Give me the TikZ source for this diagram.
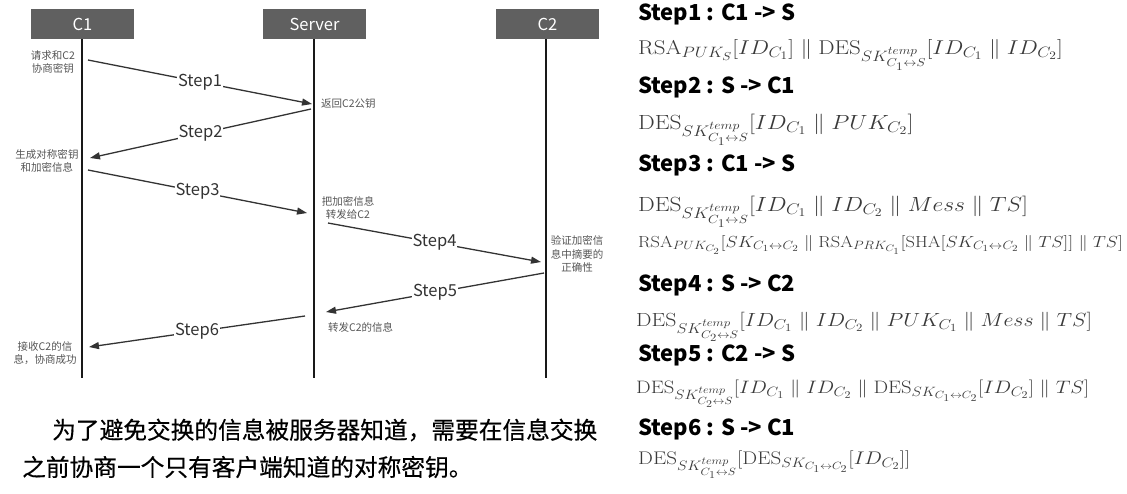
\documentclass[tikz,border=0pt]{standalone}
\usepackage{fix-cm}
\usepackage{amsmath}
\usepackage{fontspec}
\newfontfamily\yahei{Noto Sans CJK SC}
\newfontfamily\yaheilead[FakeBold=0.4]{Noto Sans CJK SC}
\usetikzlibrary{arrows.meta}
\DeclareMathSizes{20.5}{20.5}{15.4}{11.8}
\DeclareMathSizes{20}{20}{15}{11.5}
\DeclareMathSizes{19}{19}{14.3}{11}
\DeclareMathSizes{18.3}{18.3}{13.7}{10.5}
\DeclareMathSizes{18}{18}{13.5}{10.4}
\DeclareMathSizes{16}{16}{12}{9.3}
\definecolor{head}{HTML}{606060}
\definecolor{wire}{HTML}{333333}
\definecolor{note}{HTML}{555555}
\definecolor{formula}{HTML}{3A3A3A}
\tikzset{
  party/.style={fill=head, text=white, minimum width=103pt, minimum height=30pt,
    inner sep=0pt, font=\yahei\fontsize{16.5}{16.5}\selectfont},
  life/.style={draw=black!90, line width=1.6pt},
  msg/.style={draw=wire, line width=1.3pt, -{Triangle[length=10pt,width=7pt]}},
  steplab/.style={fill=white, text=wire, inner sep=1pt, font=\yahei\fontsize{16.5}{16.5}\selectfont},
  memo/.style={text=note, align=center, inner sep=0pt, font=\yahei\fontsize{10.5}{13.5}\selectfont},
  title/.style={anchor=base west, inner sep=0pt, text height=16pt, text depth=4pt,
    font=\yahei\bfseries\fontsize{22}{22}\selectfont},
  eqn/.style={anchor=base west, inner sep=0pt, text=formula, font=\fontsize{#1}{#1}\selectfont},
  lead/.style={anchor=west, inner sep=0pt, font=\yaheilead\fontsize{23.7}{23.7}\selectfont}
}
\newcommand{\skt}[1]{SK^{temp}_{C_#1\leftrightarrow S}}
\newcommand{\skc}{SK_{C_1\leftrightarrow C_2}}
\newcommand{\wideq}[1]{\scalebox{1.15}[1]{$#1$}}

\begin{document}
\begin{tikzpicture}[x=1pt, y=-1pt]
  \useasboundingbox (0,0) rectangle (1127,493);

  % parties and lifelines
  \node[party] (c1) at (82.5,24) {C1};
  \node[party] (srv) at (314.5,24) {Server};
  \node[party] (c2) at (547.5,24) {C2};
  \coordinate (c1end) at (82,378);
  \coordinate (srvend) at (314,378);
  \coordinate (c2end) at (546,378);
  \draw[life] (c1.south -| c1end) -- (c1end);
  \draw[life] (srv.south -| srvend) -- (srvend);
  \draw[life] (c2.south -| c2end) -- (c2end);

  % message end points
  \coordinate (m1a) at (88,60);   \coordinate (m1b) at (312,104);
  \coordinate (m2a) at (311,109); \coordinate (m2b) at (90,158);
  \coordinate (m3a) at (88,170);  \coordinate (m3b) at (307,213);
  \coordinate (m4a) at (328,223); \coordinate (m4b) at (541,262);
  \coordinate (m5a) at (544,273); \coordinate (m5b) at (326,312);
  \coordinate (m6a) at (305,316); \coordinate (m6b) at (89,347);

  \draw[msg] (m1a) -- node[steplab] (s1) {Step1} (m1b);
  \draw[msg] (m2a) -- node[steplab] (s2) {Step2} (m2b);
  \draw[msg] (m3a) -- node[steplab] (s3) {Step3} (m3b);
  \draw[msg] (m4a) -- node[steplab] (s4) {Step4} (m4b);
  \draw[msg] (m5a) -- node[steplab] (s5) {Step5} (m5b);
  \draw[msg] (m6a) -- node[steplab] (s6) {Step6} (m6b);

  % notes beside the lifelines
  \node[memo] (n1) at (53,62) {请求和C2\\协商密钥};
  \node[memo] (n2) at (47,161) {生成对称密钥\\和加密信息};
  \node[memo, anchor=west] (n3) at (321,104) {返回C2公钥};
  \node[memo] (n4) at (348,208) {把加密信息\\转发给C2};
  \node[memo] (n5) at (577,254) {验证加密信\\息中摘要的\\正确性};
  \node[memo, anchor=west] (n6) at (328,327) {转发C2的信息};
  \node[memo] (n7) at (45,353) {接收C2的信\\息，协商成功};

  % summary below the chart
  \node[lead] (p1) at (52,430) {为了避免交换的信息被服务器知道，需要在信息交换};
  \node[lead] (p2) at (22,467) {之前协商一个只有客户端知道的对称密钥。};

  % step formulas
  \node[title] (t1) at (638,20.5) {Step1 : C1 -> S};
  \node[eqn=20] (f1) at (638,54)
    {\wideq{\mathrm{RSA}_{PUK_S}[ID_{C_1}] \parallel \mathrm{DES}_{\skt1}[ID_{C_1} \parallel ID_{C_2}]}};
  \node[title] (t2) at (638,93) {Step2 : S -> C1};
  \node[eqn=20.5] (f2) at (638,129)
    {\wideq{\mathrm{DES}_{\skt1}[ID_{C_1} \parallel PUK_{C_2}]}};
  \node[title] (t3) at (638,171) {Step3 : C1 -> S};
  \node[eqn=20.5] (f3) at (638,211)
    {\wideq{\mathrm{DES}_{\skt1}[ID_{C_1} \parallel ID_{C_2} \parallel Mess \parallel TS]}};
  \node[eqn=16] (f3b) at (638,247)
    {\wideq{\mathrm{RSA}_{PUK_{C_2}}[\skc \parallel \mathrm{RSA}_{PRK_{C_1}}[\mathrm{SHA}[\skc \parallel TS]] \parallel TS]}};
  \node[title] (t4) at (638,291) {Step4 : S -> C2};
  \node[eqn=19] (f4) at (636,326)
    {\wideq{\mathrm{DES}_{\skt2}[ID_{C_1} \parallel ID_{C_2} \parallel PUK_{C_1} \parallel Mess \parallel TS]}};
  \node[title] (t5) at (638,361.5) {Step5 : C2 -> S};
  \node[eqn=18] (f5) at (636,393)
    {\wideq{\mathrm{DES}_{\skt2}[ID_{C_1} \parallel ID_{C_2} \parallel \mathrm{DES}_{\skc}[ID_{C_2}] \parallel TS]}};
  \node[title] (t6) at (638,435) {Step6 : S -> C1};
  \node[eqn=18.3] (f6) at (638,464)
    {\wideq{\mathrm{DES}_{\skt1}[\mathrm{DES}_{\skc}[ID_{C_2}]]}};
\end{tikzpicture}
\end{document}
